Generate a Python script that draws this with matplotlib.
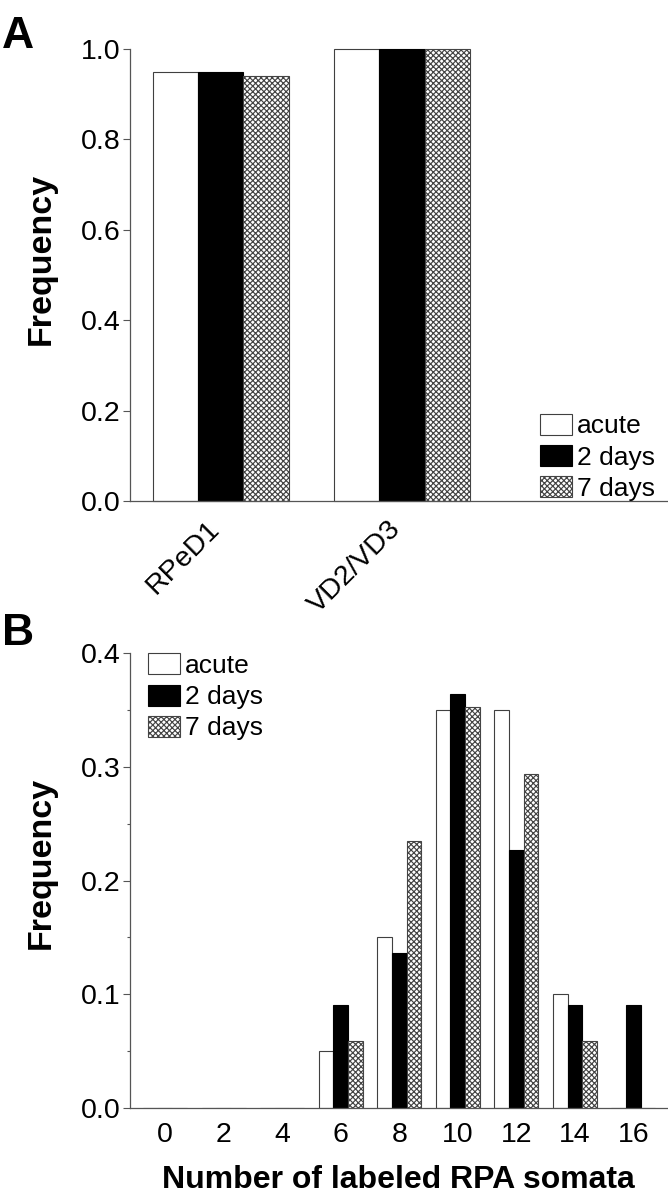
import matplotlib
matplotlib.use("Agg")
import matplotlib.pyplot as plt
import matplotlib.transforms as mtransforms
from matplotlib.ticker import MultipleLocator, FormatStrFormatter
from matplotlib.patches import Patch

plt.rcParams['font.family'] = ['Liberation Sans', 'DejaVu Sans']
plt.rcParams['hatch.linewidth'] = 0.85

# ---- Data ----
series_names = ["acute", "2 days", "7 days"]

cats_a = ["RPeD1", "VD2/VD3"]
acute_a = [0.95, 1.00]
two_days_a = [0.95, 1.00]
seven_days_a = [0.94, 1.00]

counts_b = [0, 2, 4, 6, 8, 10, 12, 14, 16]
acute_b = [0, 0, 0, 0.05, 0.15, 0.35, 0.35, 0.10, 0]
two_days_b = [0, 0, 0, 0.091, 0.136, 0.364, 0.227, 0.091, 0.091]
seven_days_b = [0, 0, 0, 0.059, 0.235, 0.353, 0.294, 0.059, 0]

# ---- Styles ----
edge = "#404040"
styles = [dict(facecolor="white", edgecolor=edge),
          dict(facecolor="black", edgecolor="black"),
          dict(facecolor="white", edgecolor="#444444", hatch="xxxxxx")]
spine_col = "#555555"
TICK_FS = 20.5
LEG_FS = 19

W, H = 668, 1199
fig = plt.figure(figsize=(W / 100, H / 100), dpi=100)

def frac(left, top, right, bottom):
    return [left / W, 1 - bottom / H, (right - left) / W, (bottom - top) / H]

axA = fig.add_axes(frac(130, 49, 667, 501))
axB = fig.add_axes(frac(130, 653.3, 667, 1108))

def style_axes(ax):
    for s in ["top", "right"]:
        ax.spines[s].set_visible(False)
    for s in ["left", "bottom"]:
        ax.spines[s].set_color(spine_col)
        ax.spines[s].set_linewidth(0.9)
    ax.tick_params(axis="y", which="major", direction="out", length=5, width=0.8,
                   color=spine_col, labelsize=TICK_FS, pad=1.5)
    ax.tick_params(axis="y", which="minor", direction="out", length=2.5, width=0.8,
                   color=spine_col)

# ---- Panel A ----
style_axes(axA)
xa = list(range(len(cats_a)))
wa = 0.25
for i, (vals, st) in enumerate(zip([acute_a, two_days_a, seven_days_a], styles)):
    axA.bar([x + (i - 1) * wa for x in xa], vals, width=wa, linewidth=0.8,
            clip_on=False, **st)
axA.set_xlim(-0.5, 2.46)
axA.set_ylim(0, 1.0)
axA.yaxis.set_major_locator(MultipleLocator(0.2))
axA.yaxis.set_major_formatter(FormatStrFormatter("%.1f"))
axA.set_xticks(xa)
axA.set_xticklabels(cats_a, rotation=45, ha="right", va="center",
                    rotation_mode="anchor", fontsize=TICK_FS)
axA.tick_params(axis="x", length=0, pad=17)
offset = mtransforms.ScaledTranslation(-5 / 100, 0, fig.dpi_scale_trans)
for lab in axA.get_xticklabels():
    lab.set_transform(lab.get_transform() + offset)
axA.set_ylabel("Frequency", fontsize=24.5, fontweight="bold")
axA.yaxis.set_label_coords(-0.136, 0.535)

handles = [Patch(linewidth=0.8, **st) for st in styles]
axA.legend(handles, series_names, loc="lower left", bbox_to_anchor=(0.7635, 0.0),
           frameon=False, fontsize=LEG_FS, handlelength=1.2, handleheight=0.85,
           handletextpad=0.2, labelspacing=0.25, borderpad=0, borderaxespad=0)

# ---- Panel B ----
style_axes(axB)
wb = 0.5
for i, (vals, st) in enumerate(zip([acute_b, two_days_b, seven_days_b], styles)):
    axB.bar([x + (i - 1) * wb for x in counts_b], vals, width=wb, linewidth=0.8,
            **st)
axB.set_xlim(-1.2, 17.15)
axB.set_ylim(0, 0.4)
axB.yaxis.set_major_locator(MultipleLocator(0.1))
axB.yaxis.set_minor_locator(MultipleLocator(0.05))
axB.yaxis.set_major_formatter(FormatStrFormatter("%.1f"))
axB.set_xticks(counts_b)
axB.set_xticklabels([str(c) for c in counts_b], fontsize=TICK_FS)
axB.tick_params(axis="x", length=0, pad=10)
axB.set_ylabel("Frequency", fontsize=24.5, fontweight="bold")
axB.yaxis.set_label_coords(-0.136, 0.54)
axB.set_xlabel("Number of labeled RPA somata", fontsize=23, fontweight="bold",
               labelpad=12)

handles = [Patch(linewidth=0.8, **st) for st in styles]
axB.legend(handles, series_names, loc="upper left", bbox_to_anchor=(0.034, 1.0),
           frameon=False, fontsize=LEG_FS, handlelength=1.2, handleheight=0.85,
           handletextpad=0.2, labelspacing=0.25, borderpad=0, borderaxespad=0)

# Panel letters
fig.text(2 / W, 1 - 48 / H, "A", fontsize=32, fontweight="bold", ha="left", va="baseline")
fig.text(2 / W, 1 - 645 / H, "B", fontsize=32, fontweight="bold", ha="left", va="baseline")

fig.savefig("out.png", dpi=100)
